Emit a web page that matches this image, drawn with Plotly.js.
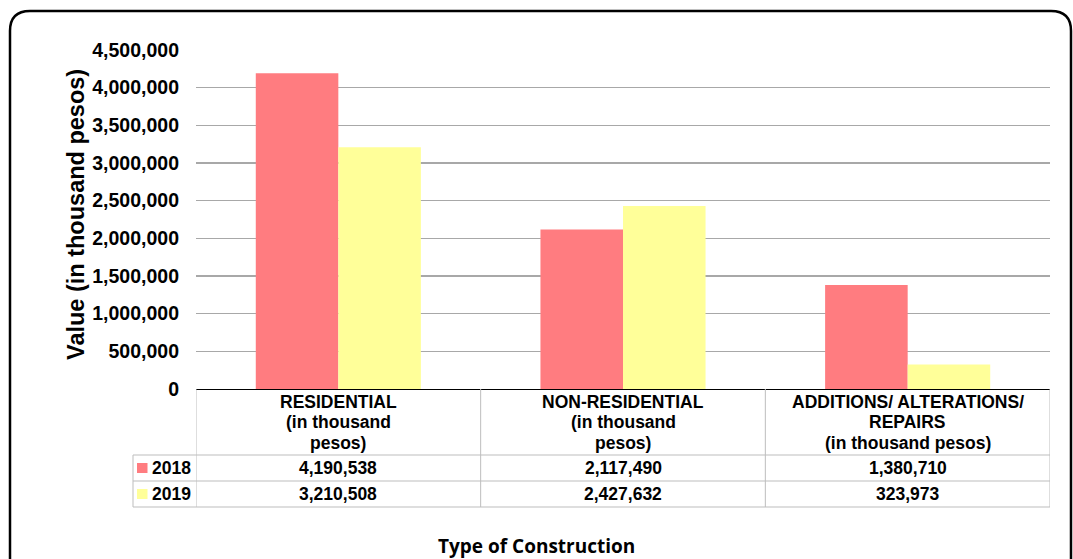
<!DOCTYPE html>
<html>
<head>
<meta charset="utf-8">
<script src="https://cdn.plot.ly/plotly-3.0.1.min.js"></script>
<style>
  html, body { margin: 0; padding: 0; background: #ffffff; }
  #chart { width: 1073px; height: 559px; }
</style>
</head>
<body>
<div id="chart"></div>
<script>
// Category header lines (drawn as the table header under each bar group)
const categoryLines = [
  ['RESIDENTIAL', '(in thousand', 'pesos)'],
  ['NON-RESIDENTIAL', '(in thousand', 'pesos)'],
  ['ADDITIONS/ ALTERATIONS/', 'REPAIRS', '(in thousand pesos)']
];
const categories = categoryLines.map(l => l.join(' '));

const years = ['2018', '2019'];
const values2018 = [4190538, 2117490, 1380710];
const values2019 = [3210508, 2427632, 323973];
const seriesValues = [values2018, values2019];
const seriesColors = ['#FF7C80', '#FFFF99'];

const yTickVals = [0, 500000, 1000000, 1500000, 2000000, 2500000, 3000000, 3500000, 4000000, 4500000];
const yTickText = ['0', '500,000', '1,000,000', '1,500,000', '2,000,000', '2,500,000',
                   '3,000,000', '3,500,000', '4,000,000', '4,500,000'];

const yTitle = 'Value (in thousand pesos)';
const xTitle = 'Type of Construction';

// Plot area geometry in page pixels
const W = 1073, H = 559;
const PL = 196, PR = 1050, PT = 50, PB = 389;
const px = v => (v - PL) / (PR - PL);     // page x -> paper x
const py = v => (PB - v) / (PB - PT);     // page y -> paper y

const FONT = 'Liberation Sans, Arial, sans-serif';
const tableLine = { color: '#bdbdbd', width: 1 };

const traces = years.map((yr, i) => ({
  type: 'bar',
  name: yr,
  x: categories,
  y: seriesValues[i],
  marker: { color: seriesColors[i], line: { width: 0 } },
  hoverinfo: 'x+y+name'
}));

const shapes = [];
const annotations = [];

// Rounded outer frame
const r = 20, fl = 10, ft = 11, fr = 1071, fb = 580;
shapes.push({
  type: 'path', xref: 'paper', yref: 'paper',
  path: `M ${px(fl)},${py(fb)} L ${px(fl)},${py(ft + r)} Q ${px(fl)},${py(ft)} ${px(fl + r)},${py(ft)} ` +
        `L ${px(fr - r)},${py(ft)} Q ${px(fr)},${py(ft)} ${px(fr)},${py(ft + r)} L ${px(fr)},${py(fb)}`,
  line: { color: '#000000', width: 2.5 }
});

// Data table rows under the axis
const rowTops = [455, 481, 507];
const legendLeft = 133;
rowTops.forEach(yy => {
  shapes.push({ type: 'line', xref: 'paper', yref: 'paper',
    x0: px(legendLeft), x1: 1, y0: py(yy), y1: py(yy), line: tableLine });
});
// column borders at category boundaries
[-0.5, 0.5, 1.5, 2.5].forEach(b => {
  shapes.push({ type: 'line', xref: 'x', yref: 'paper',
    x0: b, x1: b, y0: 0, y1: py(507), line: tableLine });
});
shapes.push({ type: 'line', xref: 'paper', yref: 'paper',
  x0: px(legendLeft), x1: px(legendLeft), y0: py(455), y1: py(507), line: tableLine });

// Header text for each category
const headerCenter = 422, headerStep = 20.5;
categoryLines.forEach((lines, ci) => {
  lines.forEach((t, li) => {
    const yy = headerCenter + (li - (lines.length - 1) / 2) * headerStep;
    annotations.push({ xref: 'x', yref: 'paper', x: categories[ci], y: py(yy),
      text: t, showarrow: false, xanchor: 'center', yanchor: 'middle',
      font: { family: FONT, size: 17.5, color: '#000000', weight: 'bold' } });
  });
});

// Value rows with legend keys
const rowCenters = [468, 494];
years.forEach((yr, si) => {
  const yc = rowCenters[si];
  shapes.push({ type: 'rect', xref: 'paper', yref: 'paper',
    x0: px(137), x1: px(147.5), y0: py(yc - 5), y1: py(yc + 5),
    fillcolor: seriesColors[si], line: { width: 0 } });
  annotations.push({ xref: 'paper', yref: 'paper', x: px(150), y: py(yc),
    text: yr, showarrow: false, xanchor: 'left', yanchor: 'middle',
    font: { family: FONT, size: 17.5, color: '#000000', weight: 'bold' } });
  seriesValues[si].forEach((v, ci) => {
    annotations.push({ xref: 'x', yref: 'paper', x: categories[ci], y: py(yc),
      text: v.toLocaleString('en-US'), showarrow: false, xanchor: 'center', yanchor: 'middle',
      font: { family: FONT, size: 17.5, color: '#000000', weight: 'bold' } });
  });
});

// Axis titles
annotations.push({ xref: 'paper', yref: 'paper', x: px(76), y: py(215),
  text: yTitle, textangle: -90, showarrow: false, xanchor: 'center', yanchor: 'middle',
  font: { family: FONT, size: 23.5, color: '#000000', weight: 'bold' } });
annotations.push({ xref: 'paper', yref: 'paper', x: px(536), y: py(546),
  text: xTitle, showarrow: false, xanchor: 'center', yanchor: 'middle',
  font: { family: 'Open Sans, sans-serif', size: 19, color: '#000000', weight: 'bold' } });

const layout = {
  width: W, height: H,
  margin: { l: PL, r: W - PR, t: PT, b: H - PB, pad: 0 },
  paper_bgcolor: '#ffffff', plot_bgcolor: '#ffffff',
  showlegend: false,
  barmode: 'group', bargap: 0.42, bargroupgap: 0,
  xaxis: {
    type: 'category', range: [-0.5, 2.5], fixedrange: true,
    showticklabels: false, ticks: '', showgrid: false, zeroline: false,
    showline: true, linecolor: '#000000', linewidth: 1.2
  },
  yaxis: {
    range: [0, 4500000], fixedrange: true,
    tickvals: yTickVals, ticktext: yTickText, ticks: '', ticklabelstandoff: 16,
    tickfont: { family: FONT, size: 19.5, color: '#000000', weight: 'bold' },
    showgrid: true, gridcolor: '#a8a8a8', gridwidth: 1.2,
    zeroline: false, showline: false
  },
  shapes: shapes,
  annotations: annotations
};

Plotly.newPlot('chart', traces, layout, { displayModeBar: false, staticPlot: true });
</script>
</body>
</html>
